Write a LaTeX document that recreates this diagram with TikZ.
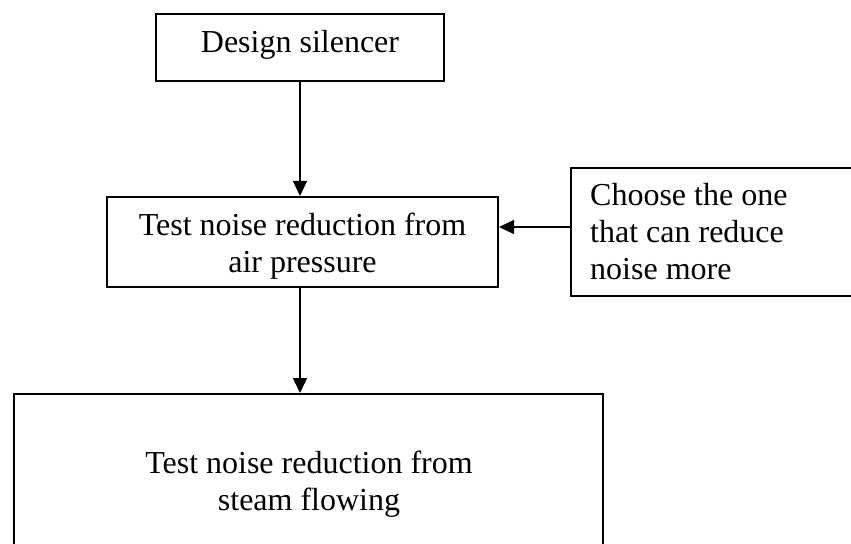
\documentclass[tikz,border=0pt]{standalone}
\usepackage{fontspec}
\setmainfont{Liberation Serif}
\usetikzlibrary{arrows.meta}

\tikzset{
  box/.style={draw=black, line width=2bp, inner sep=0pt, anchor=north west},
  label text/.style={font=\fontsize{32bp}{37bp}\selectfont, inner sep=0pt},
  flow/.style={draw=black, line width=1.4bp, -{Triangle[width=14bp,length=15bp]}}
}

\begin{document}
\begin{tikzpicture}[x=1bp, y=-1bp]
  \clip (0,0) rectangle (851,544);

  % boxes
  \node[box, minimum width=288bp, minimum height=67bp] (design) at (155,13) {};
  \node[box, minimum width=391bp, minimum height=90bp] (air) at (106,196) {};
  \node[box, minimum width=290bp, minimum height=128bp] (choose) at (570,167) {};
  \node[box, minimum width=589bp, minimum height=160bp] (steam) at (13,393) {};

  % texts (base anchor sits on the last line)
  \node[label text, anchor=base] (tdesign) at (300,53) {Design silencer};
  \begin{scope}
    % the text frame cuts off the descenders of the second line
    \clip (106,196) rectangle (497,280);
    \node[label text, anchor=base, align=center] (tair) at (302.5,273)
      {Test noise reduction from\\air pressure};
  \end{scope}
  \node[label text, anchor=base west, align=left] (tchoose) at (590,280)
    {Choose the one\\that can reduce\\noise more};
  \node[label text, anchor=base, align=center] (tsteam) at (309,510)
    {Test noise reduction from\\steam flowing};

  % connectors
  \draw[flow] (design.south -| 300,0) -- (air.north -| 300,0);
  \draw[flow] (air.south -| 300,0) -- (steam.north -| 300,0);
  \draw[flow] (choose.west |- 0,227) -- (air.east |- 0,227);
\end{tikzpicture}
\end{document}
